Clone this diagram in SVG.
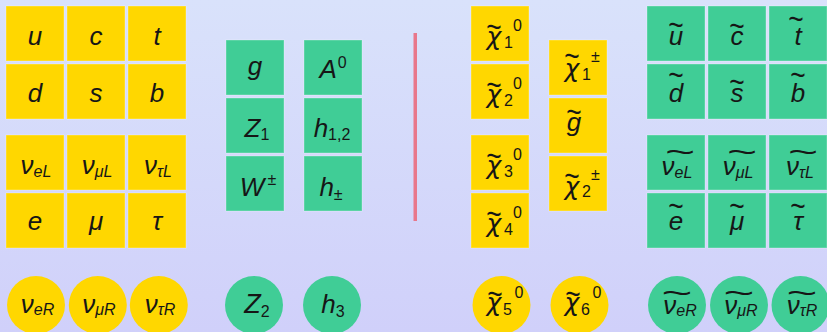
<svg xmlns="http://www.w3.org/2000/svg" width="827" height="332" viewBox="0 0 827 332">
<defs>
<linearGradient id="bgg" x1="0" y1="0" x2="0" y2="1">
<stop offset="0" stop-color="#d9e2fb"/>
<stop offset="1" stop-color="#d0d0fa"/>
</linearGradient>
</defs>
<style>
.yb{fill:#ffd700;stroke:#ffffff;stroke-opacity:0.3;stroke-width:1}
.gb{fill:#40cd96;stroke:#ffffff;stroke-opacity:0.3;stroke-width:1}
.yc{fill:#ffd700}
.gc{fill:#40cd96}
.m{font-family:"Liberation Sans",Arial,sans-serif;font-style:italic;font-size:26px;fill:#161616}
.x{font-family:"DejaVu Sans",sans-serif;font-style:italic;font-size:25px;fill:#161616;text-anchor:middle}
.c{text-anchor:middle}
.sb{font-size:16px}
.n{font-style:normal}
.tl{font-family:"Liberation Sans",Arial,sans-serif;font-size:24px;fill:#161616;text-anchor:middle}
</style>
<rect x="0" y="0" width="827" height="332" fill="url(#bgg)"/>

<g id="sm-fermions">
<g id="u"><rect class="yb" x="6" y="6" width="58" height="55"/><text class="m c" x="35" y="45">u</text></g>
<g id="c"><rect class="yb" x="67" y="6" width="58" height="55"/><text class="m c" x="96" y="45">c</text></g>
<g id="t"><rect class="yb" x="128" y="6" width="58" height="55"/><text class="m c" x="157" y="45">t</text></g>
<g id="d"><rect class="yb" x="6" y="64" width="58" height="55"/><text class="m c" x="35" y="102">d</text></g>
<g id="s"><rect class="yb" x="67" y="64" width="58" height="55"/><text class="m c" x="96" y="102">s</text></g>
<g id="b"><rect class="yb" x="128" y="64" width="58" height="55"/><text class="m c" x="157" y="102">b</text></g>
<g id="nueL"><rect class="yb" x="6" y="135" width="58" height="55"/><text class="m c" x="36" y="174">ν<tspan class="sb" dy="3">eL</tspan></text></g>
<g id="numuL"><rect class="yb" x="67" y="135" width="58" height="55"/><text class="m c" x="97" y="174">ν<tspan class="sb" dy="3">μL</tspan></text></g>
<g id="nutauL"><rect class="yb" x="128" y="135" width="58" height="55"/><text class="m c" x="158" y="174">ν<tspan class="sb" dy="3">τL</tspan></text></g>
<g id="e"><rect class="yb" x="6" y="193" width="58" height="55"/><text class="m c" x="35" y="230">e</text></g>
<g id="mu"><rect class="yb" x="67" y="193" width="58" height="55"/><text class="m c" x="96" y="230">μ</text></g>
<g id="tau"><rect class="yb" x="128" y="193" width="58" height="55"/><text class="m c" x="157" y="230">τ</text></g>
</g>

<g id="sm-bosons">
<g id="g"><rect class="gb" x="226" y="40" width="58" height="55"/><text class="m c" x="255" y="75">g</text></g>
<g id="A0"><rect class="gb" x="304" y="40" width="58" height="55"/><text class="m c" x="333" y="78">A<tspan class="sb n" dx="1" dy="-10">0</tspan></text></g>
<g id="Z1"><rect class="gb" x="226" y="98" width="58" height="55"/><text class="m c" x="257" y="137">Z<tspan class="sb n" dy="3">1</tspan></text></g>
<g id="h12"><rect class="gb" x="304" y="98" width="58" height="55"/><text class="m c" x="332" y="137">h<tspan class="sb n" dy="3">1,2</tspan></text></g>
<g id="Wpm"><rect class="gb" x="226" y="156" width="58" height="55"/><text class="m c" x="258" y="196">W<tspan class="sb n" dx="3" dy="-11">±</tspan></text></g>
<g id="hpm"><rect class="gb" x="304" y="156" width="58" height="55"/><text class="m c" x="331" y="196">h<tspan class="sb n" dy="4">±</tspan></text></g>
</g>

<g id="divider"><rect x="413.5" y="33" width="3.5" height="188" fill="#e8778b"/></g>

<g id="neutralinos">
<g id="chi1_0"><rect class="yb" x="471" y="6" width="58" height="55"/>
<text class="tl" transform="translate(494,26) scale(1.1,1.4)" y="8.3">~</text>
<text class="x" x="494" y="45">χ</text><text class="m sb n" x="504" y="47.5">1</text><text class="m sb n" x="513" y="31">0</text></g>
<g id="chi2_0"><rect class="yb" x="471" y="64" width="58" height="55"/>
<text class="tl" transform="translate(494,84) scale(1.1,1.4)" y="8.3">~</text>
<text class="x" x="494" y="103">χ</text><text class="m sb n" x="504" y="105.5">2</text><text class="m sb n" x="513" y="89">0</text></g>
<g id="chi3_0"><rect class="yb" x="471" y="135" width="58" height="55"/>
<text class="tl" transform="translate(494,155) scale(1.1,1.4)" y="8.3">~</text>
<text class="x" x="494" y="174">χ</text><text class="m sb n" x="504" y="176.5">3</text><text class="m sb n" x="513" y="160">0</text></g>
<g id="chi4_0"><rect class="yb" x="471" y="193" width="58" height="55"/>
<text class="tl" transform="translate(494,213) scale(1.1,1.4)" y="8.3">~</text>
<text class="x" x="494" y="232">χ</text><text class="m sb n" x="504" y="234.5">4</text><text class="m sb n" x="513" y="218">0</text></g>
<g id="chi1_pm"><rect class="yb" x="549" y="40" width="58" height="55"/>
<text class="tl" transform="translate(572,55) scale(1.1,1.4)" y="8.3">~</text>
<text class="x" x="572" y="77">χ</text><text class="m sb n" x="582" y="80">1</text><text class="m sb n" x="591" y="62">±</text></g>
<g id="gluino"><rect class="yb" x="549" y="98" width="58" height="55"/>
<text class="tl" transform="translate(574,111.5) scale(1.1,1.4)" y="8.3">~</text>
<text class="m c" x="574" y="131">g</text></g>
<g id="chi2_pm"><rect class="yb" x="549" y="156" width="58" height="55"/>
<text class="tl" transform="translate(572,175) scale(1.1,1.4)" y="8.3">~</text>
<text class="x" x="572" y="195">χ</text><text class="m sb n" x="582" y="197">2</text><text class="m sb n" x="591" y="180">±</text></g>
</g>

<g id="sfermions">
<g id="su"><rect class="gb" x="647" y="6" width="58" height="55"/>
<text class="tl" transform="translate(676,24) scale(1.1,1.4)" y="8.3">~</text><text class="m c" x="676" y="45">u</text></g>
<g id="sc"><rect class="gb" x="708" y="6" width="58" height="55"/>
<text class="tl" transform="translate(737,25) scale(1.1,1.4)" y="8.3">~</text><text class="m c" x="737" y="45">c</text></g>
<g id="st"><rect class="gb" x="769" y="6" width="58" height="55"/>
<text class="tl" transform="translate(796,18) scale(1.1,1.4)" y="8.3">~</text><text class="m c" x="798" y="45">t</text></g>
<g id="sd"><rect class="gb" x="647" y="64" width="58" height="55"/>
<text class="tl" transform="translate(676,74) scale(1.1,1.4)" y="8.3">~</text><text class="m c" x="676" y="102">d</text></g>
<g id="ss"><rect class="gb" x="708" y="64" width="58" height="55"/>
<text class="tl" transform="translate(737,81) scale(1.1,1.4)" y="8.3">~</text><text class="m c" x="737" y="102">s</text></g>
<g id="sb"><rect class="gb" x="769" y="64" width="58" height="55"/>
<text class="tl" transform="translate(798,74) scale(1.1,1.4)" y="8.3">~</text><text class="m c" x="798" y="102">b</text></g>
<g id="snueL"><rect class="gb" x="647" y="135" width="58" height="55"/>
<text class="tl" transform="translate(680,152.5) scale(2.15,1.2)" y="8.3">~</text><text class="m c" x="677" y="175">ν<tspan class="sb" dy="3">eL</tspan></text></g>
<g id="snumuL"><rect class="gb" x="708" y="135" width="58" height="55"/>
<text class="tl" transform="translate(742,152.5) scale(2.15,1.2)" y="8.3">~</text><text class="m c" x="738" y="175">ν<tspan class="sb" dy="3">μL</tspan></text></g>
<g id="snutauL"><rect class="gb" x="769" y="135" width="58" height="55"/>
<text class="tl" transform="translate(803,152.5) scale(2.15,1.2)" y="8.3">~</text><text class="m c" x="800" y="175">ν<tspan class="sb" dy="3">τL</tspan></text></g>
<g id="se"><rect class="gb" x="647" y="193" width="58" height="55"/>
<text class="tl" transform="translate(676,205) scale(1.1,1.4)" y="8.3">~</text><text class="m c" x="676" y="230">e</text></g>
<g id="smu"><rect class="gb" x="708" y="193" width="58" height="55"/>
<text class="tl" transform="translate(737,205) scale(1.1,1.4)" y="8.3">~</text><text class="m c" x="737" y="230">μ</text></g>
<g id="stau"><rect class="gb" x="769" y="193" width="58" height="55"/>
<text class="tl" transform="translate(798,205) scale(1.1,1.4)" y="8.3">~</text><text class="m c" x="798" y="230">τ</text></g>
</g>

<g id="extra-states">
<g id="nueR"><circle class="yc" cx="36" cy="305" r="29"/><text class="m c" x="37.5" y="313">ν<tspan class="sb" dy="2">eR</tspan></text></g>
<g id="numuR"><circle class="yc" cx="97.8" cy="305" r="29"/><text class="m c" x="99" y="313">ν<tspan class="sb" dy="2">μR</tspan></text></g>
<g id="nutauR"><circle class="yc" cx="158.8" cy="305" r="29"/><text class="m c" x="160" y="313">ν<tspan class="sb" dy="2">τR</tspan></text></g>
<g id="Z2"><circle class="gc" cx="254" cy="305" r="29"/><text class="m c" x="257" y="313" style="font-size:27px">Z<tspan class="sb n" dy="3.5">2</tspan></text></g>
<g id="h3"><circle class="gc" cx="332" cy="305" r="29"/><text class="m c" x="333" y="313">h<tspan class="sb n" dy="3.5">3</tspan></text></g>
<g id="chi5_0"><circle class="yc" cx="501.5" cy="305" r="29"/>
<text class="tl" transform="translate(495,293) scale(1.1,1.4)" y="8.3">~</text>
<text class="x" x="494" y="311">χ</text><text class="m sb n" x="503" y="315">5</text><text class="m sb n" x="514.5" y="298">0</text></g>
<g id="chi6_0"><circle class="yc" cx="579.5" cy="305" r="29"/>
<text class="tl" transform="translate(573,293) scale(1.1,1.4)" y="8.3">~</text>
<text class="x" x="572" y="311">χ</text><text class="m sb n" x="581" y="315">6</text><text class="m sb n" x="592.5" y="298">0</text></g>
<g id="snueR"><circle class="gc" cx="677" cy="305" r="29"/>
<text class="tl" transform="translate(677,293.5) scale(2.2,1.2)" y="8.3">~</text><text class="m c" x="680" y="314">ν<tspan class="sb" dy="2">eR</tspan></text></g>
<g id="snumuR"><circle class="gc" cx="739" cy="305" r="29"/>
<text class="tl" transform="translate(739,293.5) scale(2.2,1.2)" y="8.3">~</text><text class="m c" x="741" y="314">ν<tspan class="sb" dy="2">μR</tspan></text></g>
<g id="snutauR"><circle class="gc" cx="800.5" cy="305" r="29"/>
<text class="tl" transform="translate(802,293.5) scale(2.2,1.2)" y="8.3">~</text><text class="m c" x="802" y="314">ν<tspan class="sb" dy="2">τR</tspan></text></g>
</g>
</svg>
